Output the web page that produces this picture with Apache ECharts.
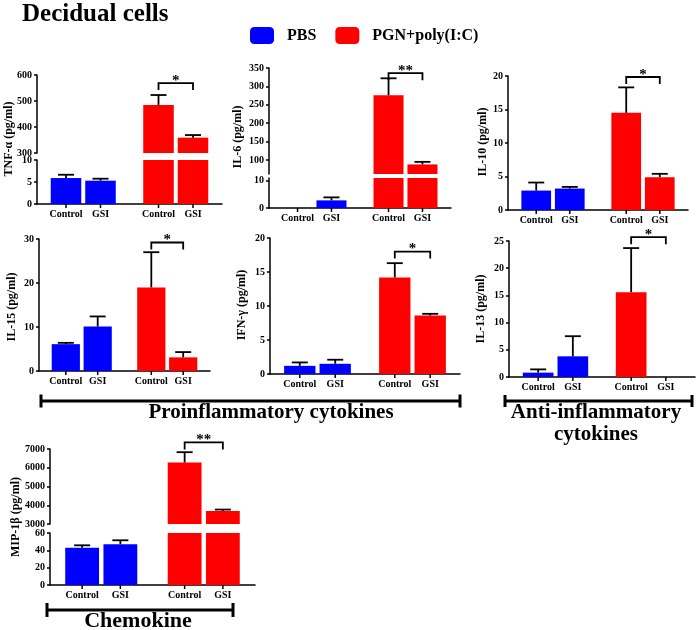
<!DOCTYPE html>
<html><head><meta charset="utf-8">
<script src="https://cdn.jsdelivr.net/npm/echarts@6/dist/echarts.min.js"></script>
<style>html,body{margin:0;padding:0;background:#fff}#c{width:700px;height:630px}</style>
</head><body><div id="c"></div>
<script>
// ---------- data ----------
const conditions = ['Control', 'GSI'];
const groupNames = ['PBS', 'PGN+poly(I:C)'];

const tnfPBS = [5.9, 5.3],   tnfPBSErr = [0.75, 0.45];
const tnfPGN = [485, 359],   tnfPGNErr = [38, 10];
const tnfTicksHi = [300, 400, 500, 600], tnfTicksLo = [0, 5, 10];

const il6PBS = [0, 2.8],     il6PBSErr = [0, 1.1];
const il6PGN = [276, 88],    il6PGNErr = [46, 7];
const il6TicksHi = [100, 150, 200, 250, 300, 350], il6TicksLo = [0, 10];

const il10PBS = [2.9, 3.2],  il10PBSErr = [1.2, 0.25];
const il10PGN = [14.5, 4.9], il10PGNErr = [3.8, 0.5];
const il10Ticks = [0, 5, 10, 15, 20];

const il15PBS = [6.1, 10.1], il15PBSErr = [0.3, 2.3];
const il15PGN = [19.0, 3.1], il15PGNErr = [8.0, 1.2];
const il15Ticks = [0, 10, 20, 30];

const ifnPBS = [1.2, 1.5],   ifnPBSErr = [0.5, 0.6];
const ifnPGN = [14.2, 8.6],  ifnPGNErr = [2.1, 0.25];
const ifnTicks = [0, 5, 10, 15, 20];

const il13PBS = [0.8, 3.8],  il13PBSErr = [0.6, 3.7];
const il13PGN = [15.6, 0],   il13PGNErr = [8.1, 0];
const il13Ticks = [0, 5, 10, 15, 20, 25];

const mipPBS = [43, 47],     mipPBSErr = [2.8, 4.6];
const mipPGN = [6280, 3700], mipPGNErr = [550, 70];
const mipTicksHi = [3000, 4000, 5000, 6000, 7000], mipTicksLo = [0, 20, 40, 60];

// ---------- layout / style ----------
const FONT = "'Liberation Serif','Times New Roman',serif";
const BLUE = '#0000ff', RED = '#ff0000';
const BAR_FRAC = 0.33, GAP_FRAC = 0.13;

const panels = [
  {name:'TNF-α (pg/ml)', pbs:tnfPBS, pbsErr:tnfPBSErr, pgn:tnfPGN, pgnErr:tnfPGNErr, sig:'*', sigY:569,
   left:37, width:185, nameX:9, nameY:139,
   segs:[{top:75, height:78, min:300, max:600, ticks:tnfTicksHi}, {top:160, height:44, min:0, max:10, ticks:tnfTicksLo}]},
  {name:'IL-6 (pg/ml)', pbs:il6PBS, pbsErr:il6PBSErr, pgn:il6PGN, pgnErr:il6PGNErr, sig:'**', sigY:336,
   left:269, width:182, nameX:238, nameY:137,
   segs:[{top:68, height:106, min:62, max:350, ticks:il6TicksHi}, {top:178, height:30, min:0, max:11, ticks:il6TicksLo}]},
  {name:'IL-10 (pg/ml)', pbs:il10PBS, pbsErr:il10PBSErr, pgn:il10PGN, pgnErr:il10PGNErr, sig:'*', sigY:19.85,
   left:508, width:180, nameX:483, nameY:142,
   segs:[{top:76, height:134, min:0, max:20, ticks:il10Ticks}]},
  {name:'IL-15 (pg/ml)', pbs:il15PBS, pbsErr:il15PBSErr, pgn:il15PGN, pgnErr:il15PGNErr, sig:'*', sigY:29.2,
   left:39, width:171, nameX:12, nameY:307,
   segs:[{top:239, height:132, min:0, max:30, ticks:il15Ticks}]},
  {name:'IFN-γ (pg/ml)', pbs:ifnPBS, pbsErr:ifnPBSErr, pgn:ifnPGN, pgnErr:ifnPGNErr, sig:'*', sigY:18.0,
   left:270, width:190, nameX:242, nameY:305,
   segs:[{top:238, height:136, min:0, max:20, ticks:ifnTicks}]},
  {name:'IL-13 (pg/ml)', pbs:il13PBS, pbsErr:il13PBSErr, pgn:il13PGN, pgnErr:il13PGNErr, sig:'*', sigY:25.7,
   left:509, width:186, nameX:481, nameY:309,
   segs:[{top:241, height:136, min:0, max:25, ticks:il13Ticks}]},
  {name:'MIP-1β (pg/ml)', pbs:mipPBS, pbsErr:mipPBSErr, pgn:mipPGN, pgnErr:mipPGNErr, sig:'**', sigY:7352,
   left:50, width:205, nameX:16, nameY:517,
   segs:[{top:449, height:75, min:3000, max:7000, ticks:mipTicksHi}, {top:533, height:52, min:0, max:60, ticks:mipTicksLo}]}
];

const lineSt = {stroke:'#000', lineWidth:1.8};

function barX(params, api, g, c) {
  const band = params.coordSys.width / groupNames.length;
  const bw = band * BAR_FRAC;
  const off = bw * (1 + GAP_FRAC) / 2;
  return api.coord([g, 0])[0] + (c === 0 ? -off : off);
}

function renderErr(params, api) {
  const g = api.value(0), m = api.value(1), top = api.value(2), c = api.value(3);
  const showErr = api.value(4), tick = api.value(5);
  const x = barX(params, api, g, c);
  const children = [];
  if (showErr) {
    const y1 = api.coord([g, m])[1], y2 = api.coord([g, top])[1];
    children.push({type:'line', shape:{x1:x, y1:y1, x2:x, y2:y2}, style:lineSt});
    children.push({type:'line', shape:{x1:x-8, y1:y2, x2:x+8, y2:y2}, style:lineSt});
  }
  if (tick) {
    const yb = params.coordSys.y + params.coordSys.height;
    children.push({type:'line', shape:{x1:x, y1:yb, x2:x, y2:yb+4}, style:{stroke:'#000', lineWidth:1.5}});
  }
  return {type:'group', children};
}

function makeSigRender(sig) {
  return function (params, api) {
    const y = api.coord([1, api.value(1)])[1];
    const xl = barX(params, api, 1, 0), xr = barX(params, api, 1, 1);
    return {type:'group', children:[
      {type:'polyline', shape:{points:[[xl, y+7],[xl, y],[xr, y],[xr, y+7]]}, style:{stroke:'#000', lineWidth:1.8, fill:null}},
      {type:'text', x:(xl+xr)/2, y:y-2, style:{text:sig, fontSize:15, fontWeight:'bold', fontFamily:FONT, fill:'#000', align:'center', verticalAlign:'middle'}}
    ]};
  };
}

const option = {
  animation:false, backgroundColor:'#fff',
  title:{text:'Decidual cells', left:22, top:2, padding:0,
    textStyle:{fontSize:25, fontWeight:'bold', fontFamily:FONT, color:'#000'}},
  legend:{left:250, top:27, padding:0, itemWidth:24, itemHeight:17, itemGap:19, icon:'roundRect', selectedMode:false,
    data:groupNames, itemStyle:{opacity:1},
    textStyle:{fontSize:16, fontWeight:'bold', fontFamily:FONT, color:'#000', padding:[0,0,0,8]}},
  grid:[], xAxis:[], yAxis:[], graphic:[],
  series:[
    {type:'scatter', name:groupNames[0], data:[], itemStyle:{color:BLUE, opacity:1}, xAxisIndex:0, yAxisIndex:0},
    {type:'scatter', name:groupNames[1], data:[], itemStyle:{color:RED, opacity:1}, xAxisIndex:0, yAxisIndex:0}
  ]
};

const axSt = {color:'#000', width:1.5};

panels.forEach(p => {
  const means = [p.pbs, p.pgn], errs = [p.pbsErr, p.pgnErr];
  const broken = p.segs.length > 1;
  p.segs.forEach((s, si) => {
    const gi = option.grid.length;
    const isBottom = si === p.segs.length - 1;
    const isTop = si === 0;
    option.grid.push({left:p.left, top:s.top, width:p.width, height:s.height, outerBoundsMode:'none', containLabel:false});
    option.xAxis.push({type:'category', gridIndex:gi, data:groupNames, show:isBottom,
      axisLine:{onZero:false, lineStyle:axSt}, axisTick:{show:false}, axisLabel:{show:false}});
    option.yAxis.push({type:'value', gridIndex:gi, min:s.min, max:s.max,
      axisLine:{show:true, lineStyle:axSt},
      axisTick:{show:true, length:3, lineStyle:axSt, customValues:s.ticks},
      axisLabel:{customValues:s.ticks, margin:5, fontSize:10, fontWeight:'bold', fontFamily:FONT, color:'#000',
        formatter: v => String(v)},
      splitLine:{show:false}});
    const inSeg = v => !broken ? true : (isTop ? v >= s.min : v <= s.max);
    conditions.forEach((cond, c) => {
      option.series.push({type:'bar', name:cond, xAxisIndex:gi, yAxisIndex:gi,
        barWidth:(BAR_FRAC*100)+'%', barGap:(GAP_FRAC*100)+'%', clip:true,
        data:[0,1].map(g => {
          const v = means[g][c];
          const show = isBottom || v >= s.min;
          return {value: show ? v : '-', itemStyle:{color: g === 0 ? BLUE : RED}};
        }),
        label: isBottom ? {show:true, position:'bottom', distance:5, formatter:cond,
          fontSize:10, fontWeight:'bold', fontFamily:FONT, color:'#000'} : {show:false}
      });
    });
    const items = [];
    [0,1].forEach(g => conditions.forEach((cond, c) => {
      const m = means[g][c], e = errs[g][c];
      const showErr = (inSeg(m) && e > 0) ? 1 : 0;
      if (showErr || isBottom) items.push([g, m, m + e, c, showErr, isBottom ? 1 : 0]);
    }));
    option.series.push({type:'custom', xAxisIndex:gi, yAxisIndex:gi, silent:true, z:5,
      encode:{x:0, y:1}, data:items, renderItem:renderErr});
    if (isTop) {
      option.series.push({type:'custom', xAxisIndex:gi, yAxisIndex:gi, silent:true, z:5,
        encode:{x:0, y:1}, data:[[1, p.sigY]], renderItem:makeSigRender(p.sig)});
    }
  });
  option.graphic.push({type:'text', x:p.nameX, y:p.nameY, rotation:Math.PI/2,
    style:{text:p.name, fontSize:12, fontWeight:'bold', fontFamily:FONT, fill:'#000', align:'center', verticalAlign:'middle'}});
});

// category brackets
function bracket(x1, x2, y, h) {
  return [
    {type:'line', shape:{x1:x1, y1:y, x2:x2, y2:y}, style:{stroke:'#000', lineWidth:3}},
    {type:'line', shape:{x1:x1, y1:y-h, x2:x1, y2:y+h}, style:{stroke:'#000', lineWidth:3}},
    {type:'line', shape:{x1:x2, y1:y-h, x2:x2, y2:y+h}, style:{stroke:'#000', lineWidth:3}}
  ];
}
function label(t, x, y, size) {
  return {type:'text', x:x, y:y, style:{text:t, fontSize:size, fontWeight:'bold', fontFamily:FONT, fill:'#000', align:'center', verticalAlign:'middle'}};
}
option.graphic.push(...bracket(41, 460, 401, 6.5));
option.graphic.push(label('Proinflammatory cytokines', 271, 413, 21));
option.graphic.push(...bracket(505, 692, 401, 6));
option.graphic.push(label('Anti-inflammatory', 596, 413, 21));
option.graphic.push(label('cytokines', 596, 435, 21));
option.graphic.push(...bracket(47, 233, 610, 7));
option.graphic.push(label('Chemokine', 138, 621, 22));

const chart = echarts.init(document.getElementById('c'), null, {renderer:'canvas'});
chart.setOption(option);
</script></body></html>
